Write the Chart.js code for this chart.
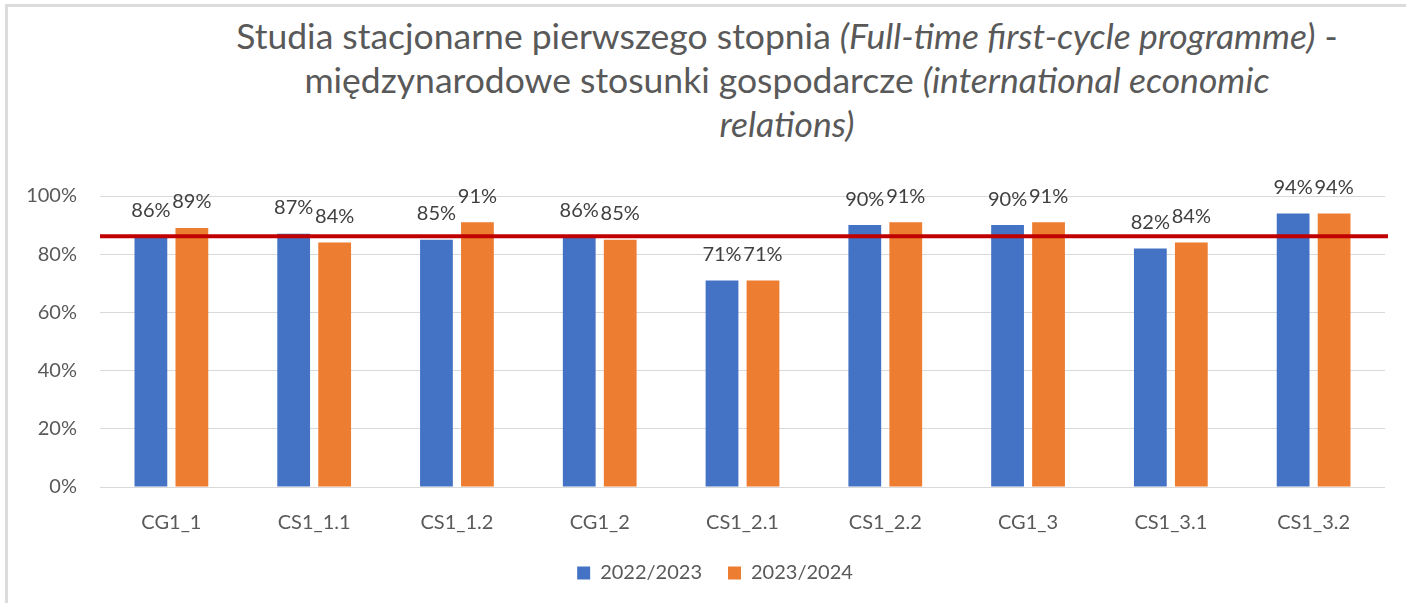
<!DOCTYPE html>
<html>
<head>
<meta charset="utf-8">
<script src="https://cdn.jsdelivr.net/npm/chart.js@4"></script>
<style>
  body { margin: 0; background: #fff; width: 1406px; height: 603px; overflow: hidden; position: relative; }
  .frame-top { position: absolute; left: 5px; top: 4px; width: 1401px; height: 3px; background: #dcdcdc; }
  .frame-left { position: absolute; left: 5px; top: 4px; width: 3px; height: 599px; background: #dcdcdc; }
  #title {
    position: absolute; left: 187px; top: 14px; width: 1200px;
    text-align: center; font-family: Lato, sans-serif; font-size: 35.5px;
    line-height: 44px; color: #595959;
  }
  #wrap { position: absolute; left: 7px; top: 7px; width: 1399px; height: 596px; }
</style>
</head>
<body>
<div class="frame-top"></div>
<div class="frame-left"></div>
<div id="title">Studia stacjonarne pierwszego stopnia <i>(Full-time first-cycle programme)</i> -<br>międzynarodowe stosunki gospodarcze <i>(international economic<br>relations)</i></div>
<div id="wrap"><canvas id="barChart"></canvas></div>
<script>
// data
const categories = ['CG1_1', 'CS1_1.1', 'CS1_1.2', 'CG1_2', 'CS1_2.1', 'CS1_2.2', 'CG1_3', 'CS1_3.1', 'CS1_3.2'];
const values2223 = [86, 87, 85, 86, 71, 90, 90, 82, 94];
const values2324 = [89, 84, 91, 85, 71, 91, 91, 84, 94];
const yTicks = [0, 20, 40, 60, 80, 100];
const targetValue = 86.2;

const fontFamily = 'Lato, sans-serif';

// red reference line across the plot
const targetLine = {
    id: 'targetLine',
    afterDatasetsDraw(chart) {
        const ctx = chart.ctx;
        const area = chart.chartArea;
        const y = chart.scales.y.getPixelForValue(targetValue);
        ctx.save();
        ctx.strokeStyle = '#C00000';
        ctx.lineWidth = 4;
        ctx.beginPath();
        ctx.moveTo(area.left, y);
        ctx.lineTo(area.right + 3, y);
        ctx.stroke();
        ctx.restore();
    }
};

// value labels above bars
const barLabels = {
    id: 'barLabels',
    afterDraw(chart) {
        const ctx = chart.ctx;
        ctx.save();
        ctx.font = '20px ' + fontFamily;
        ctx.fillStyle = '#404040';
        ctx.textAlign = 'center';
        ctx.textBaseline = 'middle';
        chart.data.datasets.forEach((ds, i) => {
            chart.getDatasetMeta(i).data.forEach((bar, j) => {
                ctx.fillText(ds.data[j] + '%', bar.x, bar.y - 26);
            });
        });
        ctx.restore();
    }
};

// y tick labels are clipped to the axis box; give them room on the left
const yLabelRoom = {
    id: 'yLabelRoom',
    afterLayout(chart) {
        chart.scales.y.left = 0;
    }
};

const ctx = document.getElementById('barChart').getContext('2d');
const myBarChart = new Chart(ctx, {
    type: 'bar',
    data: {
        labels: categories,
        datasets: [
            { label: '2022/2023', data: values2223, backgroundColor: '#4472C4' },
            { label: '2023/2024', data: values2324, backgroundColor: '#ED7D31' }
        ]
    },
    options: {
        responsive: true,
        maintainAspectRatio: false,
        animation: false,
        datasets: { bar: { categoryPercentage: 0.574, barPercentage: 0.8 } },
        layout: { padding: { top: 189, left: 38, right: 21, bottom: 10 } },
        plugins: {
            title: { display: false },
            tooltip: { enabled: false },
            legend: {
                position: 'bottom',
                labels: {
                    boxWidth: 13, boxHeight: 13, padding: 26,
                    color: '#595959',
                    font: { family: fontFamily, size: 20 }
                }
            }
        },
        scales: {
            x: {
                afterFit: s => { s.height = 50; },
                grid: { display: false },
                border: { display: false },
                ticks: { color: '#595959', padding: 16, font: { family: fontFamily, size: 20 } }
            },
            y: {
                min: 0, max: 100,
                afterFit: s => { s.width = 55; },
                afterBuildTicks: s => { s.ticks = yTicks.map(v => ({ value: v })); },
                grid: { color: '#d9d9d9', lineWidth: 1, drawTicks: false },
                border: { display: false },
                ticks: {
                    color: '#595959', padding: 23,
                    font: { family: fontFamily, size: 20 },
                    callback: v => v + '%'
                }
            }
        }
    },
    plugins: [targetLine, barLabels, yLabelRoom]
});
</script>
</body>
</html>
